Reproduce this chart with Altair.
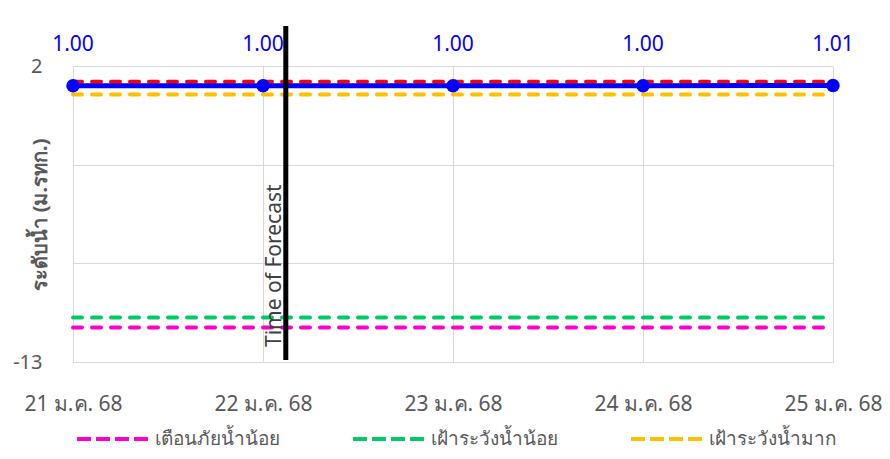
import altair as alt
import pandas as pd

# ---- data ----
days = [21, 22, 23, 24, 25]
day_suffix = " ม.ค. 68"
level_values = [1.00, 1.00, 1.00, 1.00, 1.01]
level_labels = ["1.00", "1.00", "1.00", "1.00", "1.01"]

threshold_names = ["เตือนภัยน้ำน้อย", "เฝ้าระวังน้ำน้อย", "เฝ้าระวังน้ำมาก", "เตือนภัยน้ำมาก"]
threshold_values = [-11.25, -10.75, 0.55, 1.2]
threshold_colors = ["#FF00CC", "#00CC66", "#FFC000", "#FF0000"]
legend_names = ["เตือนภัยน้ำน้อย", "เฝ้าระวังน้ำน้อย", "เฝ้าระวังน้ำมาก"]

forecast_day = [22.12]
forecast_label = ["Time of Forecast"]
y_ticks = [-13, -8, -3, 2]
y_title = "ระดับน้ำ (ม.รทก.)"

FONT = "Noto Sans"
GRAY = "#595959"

level_df = pd.DataFrame({"day": days, "level": level_values, "label": level_labels})
thr_rows = []
for n, v in zip(threshold_names, threshold_values):
    for d in days:
        thr_rows.append({"day": d, "value": v, "series": n})
thr_df = pd.DataFrame(thr_rows)
fc_df = pd.DataFrame({"day": forecast_day, "label": forecast_label})

x_scale = alt.Scale(domain=[days[0], days[-1]], nice=False, zero=False)
y_scale = alt.Scale(domain=[min(y_ticks), max(y_ticks)], nice=False, zero=False)

x_axis = alt.Axis(
    values=days, labelExpr=f"datum.value + '{day_suffix}'", title=None,
    grid=True, gridColor="#D9D9D9", domain=False, ticks=False,
    labelFontSize=21, labelColor=GRAY, labelPadding=31, labelFont=FONT,
    labelFlush=False, labelOverlap=False, labelBound=False,
)
y_axis = alt.Axis(
    values=y_ticks,
    labelExpr="datum.value == 2 || datum.value == -13 ? toString(datum.value) : ''",
    title=y_title, titleFontSize=20, titleColor=GRAY, titleFont=FONT, titleFontWeight="bold",
    titleX=-33, titleY=148, titleAngle=270, titleAlign="center", titleBaseline="middle",
    grid=True, gridColor="#D9D9D9", domain=False, ticks=False,
    labelFontSize=20, labelColor=GRAY, labelPadding=31, labelFont=FONT,
    labelFlush=False, labelOverlap=False,
)

thr = alt.Chart(thr_df).mark_line(strokeWidth=4, strokeDash=[9, 10], strokeCap="round").encode(
    x=alt.X("day:Q", scale=x_scale, axis=x_axis),
    y=alt.Y("value:Q", scale=y_scale, axis=y_axis),
    color=alt.Color(
        "series:N",
        scale=alt.Scale(domain=threshold_names, range=threshold_colors),
        legend=alt.Legend(
            values=legend_names, title=None, orient="none", legendX=2, legendY=335,
            direction="horizontal", symbolType="stroke", symbolStrokeWidth=4,
            symbolDash=[14, 5], symbolSize=5184, labelFontSize=19, labelColor=GRAY,
            labelFont=FONT, labelOffset=4, columnPadding=65, labelLimit=300,
        ),
    ),
    detail="series:N",
)

line = alt.Chart(level_df).mark_line(color="#0000FF", strokeWidth=5).encode(
    x=alt.X("day:Q", scale=x_scale), y=alt.Y("level:Q", scale=y_scale)
)
pts = alt.Chart(level_df).mark_point(filled=True, size=180, color="#0000FF", opacity=1).encode(
    x=alt.X("day:Q", scale=x_scale), y=alt.Y("level:Q", scale=y_scale)
)
lbl = alt.Chart(level_df).mark_text(color="#0000FF", fontSize=21, dy=-41, font=FONT).encode(
    x=alt.X("day:Q", scale=x_scale), y=alt.Y("level:Q", scale=y_scale), text="label:N"
)

rule = alt.Chart(fc_df).mark_rule(color="black", strokeWidth=5).encode(
    x=alt.X("day:Q", scale=x_scale), y=alt.value(-40), y2=alt.value(294)
)
fc_text = alt.Chart(fc_df).mark_text(
    angle=270, align="left", baseline="bottom", fontSize=21, color="#404040", font=FONT, dy=-1
).encode(x=alt.X("day:Q", scale=x_scale), y=alt.value(281), text="label:N")

chart = alt.layer(thr, line, pts, rule, fc_text, lbl).properties(
    width=760, height=296, autosize="none",
    padding={"left": 65, "top": 58, "right": 49, "bottom": 89},
).configure_view(stroke=None)

chart.save("out.html", embed_options={"renderer": "svg", "actions": False})
